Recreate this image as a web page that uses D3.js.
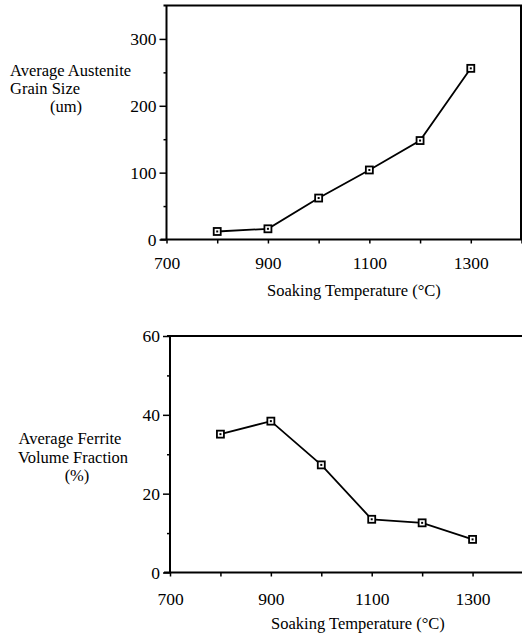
<!DOCTYPE html>
<html>
<head>
<meta charset="utf-8">
<script src="https://cdn.jsdelivr.net/npm/d3@7"></script>
<style>
  html, body { margin: 0; padding: 0; background: #fff; }
  svg { display: block; }
  text { font-family: "Liberation Serif", "Times New Roman", serif; fill: #000; }
</style>
</head>
<body>
<svg id="chart" width="522" height="637"></svg>
<script>
// ---- data ----
const temperatures = [800, 900, 1000, 1100, 1200, 1300];
const grainSize = [12, 16, 62, 104, 148, 256];
const ferriteFraction = [35.1, 38.4, 27.3, 13.5, 12.6, 8.4];

const xTickValues = [700, 800, 900, 1000, 1100, 1200, 1300, 1400];
const xTickLabels = [700, 900, 1100, 1300];
const grainMajorTicks = [0, 100, 200, 300];
const grainMinorTicks = [50, 150, 250];
const ferriteMajorTicks = [0, 20, 40, 60];
const ferriteMinorTicks = [10, 30, 50];

const xTitle = "Soaking Temperature (°C)";
const grainTitle = ["Average Austenite", "Grain Size", "(um)"];
const ferriteTitle = ["Average Ferrite", "Volume Fraction", "(%)"];

const svg = d3.select("#chart");
const FS = 16.5;
const TFS = 17.5;

function panel(opts) {
  const g = svg.append("g");
  const x = d3.scaleLinear().domain([700, 1400]).range(opts.xRange);
  const y = d3.scaleLinear().domain(opts.yDomain).range(opts.yRange);
  const x0 = opts.xRange[0], y0 = opts.yRange[0], yTop = opts.yRange[1];

  // frame (top, optional right)
  g.append("line").attr("x1", x0 - 3).attr("x2", opts.frameRight)
    .attr("y1", yTop).attr("y2", yTop).attr("stroke", "#000").attr("stroke-width", 2);
  if (opts.rightLine) {
    g.append("line").attr("x1", opts.frameRight - 1).attr("x2", opts.frameRight - 1)
      .attr("y1", yTop).attr("y2", y0).attr("stroke", "#000").attr("stroke-width", 2);
  }

  // y axis major
  const yAxis = g.append("g").attr("transform", `translate(${x0},0)`)
    .call(d3.axisLeft(y).tickValues(opts.yMajor).tickSize(7).tickPadding(3).tickFormat(d3.format("d")));
  yAxis.select(".domain").attr("d", `M0,${yTop}V${y0}`).attr("stroke-width", 2);
  yAxis.selectAll(".tick line").attr("stroke-width", 1.5);
  yAxis.selectAll("text").attr("font-size", TFS).attr("font-family", "Liberation Serif");
  // y axis minor
  const yMinor = g.append("g").attr("transform", `translate(${x0},0)`)
    .call(d3.axisLeft(y).tickValues(opts.yMinor).tickSize(3).tickFormat(""));
  yMinor.select(".domain").remove();
  yMinor.selectAll(".tick line").attr("stroke-width", 1.5);

  // x axis
  const xAxis = g.append("g").attr("transform", `translate(0,${y0})`)
    .call(d3.axisBottom(x).tickValues(xTickValues).tickSize(4).tickPadding(opts.xPad)
      .tickFormat(d => xTickLabels.includes(d) ? d : ""));
  xAxis.select(".domain").attr("d", `M${x0 - 6},0H${opts.frameRight}`).attr("stroke-width", 2);
  xAxis.selectAll(".tick line").attr("stroke-width", 1.5);
  xAxis.selectAll("text").attr("font-size", TFS).attr("font-family", "Liberation Serif");

  // x title
  g.append("text").attr("x", opts.xTitlePos[0]).attr("y", opts.xTitlePos[1])
    .attr("text-anchor", "middle").attr("font-size", FS).text(xTitle);

  // y title
  opts.yTitle.forEach((t, i) => {
    g.append("text").attr("x", opts.yTitleX[i]).attr("y", opts.yTitleY + i * opts.yTitleGap)
      .attr("text-anchor", opts.yTitleAnchor).attr("font-size", FS).text(t);
  });

  // line
  const pts = temperatures.map((t, i) => [t, opts.values[i]]);
  g.append("path").datum(pts)
    .attr("fill", "none").attr("stroke", "#000").attr("stroke-width", 1.8)
    .attr("d", d3.line().x(d => x(d[0])).y(d => y(d[1])));

  // markers
  g.selectAll("rect.m").data(pts).enter().append("rect")
    .attr("x", d => x(d[0]) - 3.5).attr("y", d => y(d[1]) - 3.5)
    .attr("width", 7).attr("height", 7)
    .attr("fill", "#fff").attr("stroke", "#000").attr("stroke-width", 1.8);
  g.selectAll("rect.c").data(pts).enter().append("rect")
    .attr("x", d => x(d[0]) - 1).attr("y", d => y(d[1]) - 1)
    .attr("width", 2).attr("height", 2).attr("fill", "#000");
}

panel({
  xRange: [166.5, 521.5],
  yDomain: [0, 350],
  yRange: [239.5, 5.5],
  frameRight: 522,
  rightLine: true,
  yMajor: grainMajorTicks,
  yMinor: grainMinorTicks,
  values: grainSize,
  xPad: 13,
  xTitlePos: [354, 296],
  yTitle: grainTitle,
  yTitleX: [10, 10, 50],
  yTitleAnchor: "start",
  yTitleY: 76,
  yTitleGap: 18
});

panel({
  xRange: [170, 523],
  yDomain: [0, 60],
  yRange: [572.5, 336],
  frameRight: 522,
  rightLine: false,
  yMajor: ferriteMajorTicks,
  yMinor: ferriteMinorTicks,
  values: ferriteFraction,
  xPad: 16,
  xTitlePos: [358, 629],
  yTitle: ferriteTitle,
  yTitleX: [70, 73, 77],
  yTitleAnchor: "middle",
  yTitleY: 444,
  yTitleGap: 18.5
});
</script>
</body>
</html>
